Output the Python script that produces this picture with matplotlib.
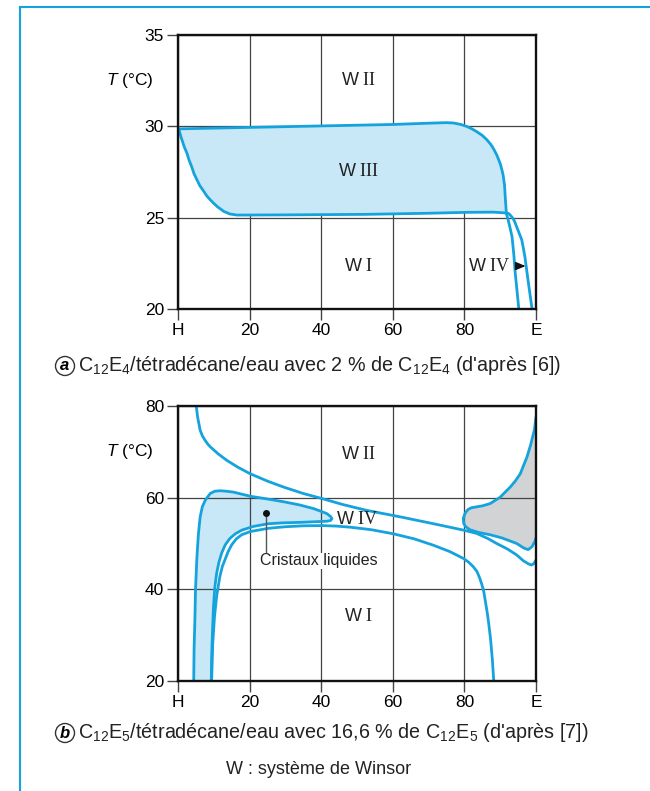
import matplotlib
matplotlib.use("Agg")
import matplotlib.pyplot as plt
from matplotlib.lines import Line2D

plt.rcParams['font.family'] = ['Liberation Sans', 'DejaVu Sans']
plt.rcParams['mathtext.fontset'] = 'custom'
plt.rcParams['mathtext.rm'] = 'Liberation Serif'
plt.rcParams['mathtext.it'] = 'Liberation Sans:italic'
plt.rcParams['mathtext.sf'] = 'Liberation Sans'

BLUE = '#14a3dc'
FILL = '#c8e8f8'
GREY = '#d1d3d4'

xticks = [0, 20, 40, 60, 80, 100]
xticklabels = ['H', '20', '40', '60', '80', 'E']

# --- (a) C12E4 / tetradecane / water, 2 % surfactant
a_yticks = [20, 25, 30, 35]
a_upper_x = [0.3, 20, 40, 60, 70, 75, 77, 79, 80.7, 82.2, 83.5, 85, 86.3, 87.4, 88.2, 89.0, 89.6,
             90.1, 90.5, 90.8, 91.0, 91.2, 91.3, 91.45, 91.6, 91.7]
a_upper_T = [29.86, 29.94, 30.02, 30.1, 30.17, 30.2, 30.18, 30.1, 29.99, 29.85, 29.7, 29.5, 29.26,
             29.0, 28.75, 28.45, 28.16, 27.9, 27.6, 27.35, 27.07, 26.8, 26.5, 26.0, 25.6, 25.3]
a_lower_x = [0.3, 0.7, 1.2, 1.8, 2.5, 3.1, 3.8, 4.5, 5.3, 6.1, 7.0, 8.0, 9.0, 10.0, 11.0, 12.8, 14.5,
             16.5, 30, 52.8, 70, 80.7, 88, 90.5, 91.7]
a_lower_T = [29.8, 29.5, 29.2, 28.85, 28.53, 28.15, 27.8, 27.4, 27.07, 26.75, 26.5, 26.2, 25.98, 25.78,
             25.6, 25.34, 25.2, 25.14, 25.15, 25.18, 25.24, 25.29, 25.3, 25.27, 25.25]
a_w4_in_x = [91.7, 92.2, 92.8, 93.3, 93.8, 94.2, 94.7, 95.2]
a_w4_in_T = [25.25, 24.9, 24.4, 23.97, 23.0, 21.97, 21.0, 20.0]
a_w4_out_x = [91.7, 92.4, 93.0, 93.6, 94.0, 94.6, 95.0, 95.4, 96.0, 96.5, 96.9, 97.9, 98.9]
a_w4_out_T = [25.27, 25.22, 25.1, 24.95, 24.8, 24.5, 24.3, 24.1, 23.8, 23.3, 22.86, 21.4, 20.0]

# --- (b) C12E5 / tetradecane / water, 16.6 % surfactant
b_yticks = [20, 40, 60, 80]
b_w2_x = [5.1, 5.5, 6.2, 6.8, 7.5, 8.2, 9.0, 11.3, 13.7, 16.8, 20.2, 25, 29.5, 35, 40.2, 46, 52.8, 62.1,
          71.4, 79.8, 83.4, 86.5, 89.0, 92.0, 94.6, 96.5, 98.0, 98.8, 99.4, 100]
b_w2_T = [80, 77.5, 74.7, 73.5, 72.6, 71.8, 71.1, 69.5, 68.1, 66.6, 65.2, 63.6, 62.3, 60.9, 59.8, 58.5,
          57.2, 55.8, 54.3, 52.9, 52.2, 51.1, 50.0, 48.8, 47.5, 46.2, 45.5, 45.3, 45.6, 46.4]
b_w1_x = [9.4, 9.7, 10.2, 10.8, 11.7, 12.4, 13.1, 14.0, 15.0, 16.3, 17.8, 20.2, 25.2, 30, 35, 40.2,
          44, 48.1, 54, 60.2, 66, 71.4, 76, 79.8, 81.2, 82.4, 83.5, 84.3, 84.9, 85.4, 85.9, 86.4,
          86.8, 87.3, 87.8, 88.2]
b_w1_T = [20, 28, 34, 38.5, 42.8, 45, 46.4, 48.2, 49.7, 51.0, 51.9, 52.6, 53.3, 53.65, 53.85, 53.9,
          53.8, 53.55, 53.0, 52.1, 51.0, 49.6, 48.2, 46.7, 45.9, 45.0, 43.9, 42.4, 41.0, 39.6, 37.2, 34.8,
          32.5, 29.2, 24.8, 20]
# liquid crystal loop: up the left side, out to the tip, back down
b_lc_x = [4.4, 4.5, 4.7, 4.9, 5.3, 5.7, 6.2, 6.8, 7.6, 9.0, 10.3, 11.8, 13.5, 15.5, 20.2, 25, 29.5,
          34, 37.9, 40, 41.6, 42.6, 43.0, 42.6, 41.6, 40.1, 34.2, 29.5, 25.2, 21, 17.8, 16, 14.5,
          13.2, 12.2, 11.4, 10.8, 10.3, 9.9, 9.6, 9.4, 9.3]
b_lc_T = [20, 27, 32.5, 40, 47.1, 52, 55.8, 58, 59.4, 60.9, 61.4, 61.5, 61.4, 61.2, 60.3, 59.7, 59.1,
          58.4, 57.6, 57.0, 56.5, 55.9, 55.4, 55.0, 54.85, 54.8, 54.6, 54.5, 54.3, 53.7, 52.9, 52.1, 51.1,
          49.7, 47.9, 45.8, 43.5, 40.5, 36, 30, 25, 20]
# grey region near E: upper edge from the top, round the bulge, lower edge to E
b_grey_x = [100, 99.6, 99.3, 98.5, 97.5, 95.6, 94.2, 92.8, 90.0, 87.2, 85, 83.5, 82, 81.0, 80.2, 79.7,
            79.8, 80.3, 81.5, 84, 87.2, 90.5, 94.6, 96.6, 97.8, 98.9, 99.6, 100]
b_grey_T = [77.6, 75, 74, 71.5, 68.9, 65.2, 63.6, 62.3, 60.1, 58.7, 58.2, 58.0, 57.8, 57.4, 56.6, 55.5,
            54.4, 53.7, 53.0, 52.4, 51.9, 51.2, 50.0, 49.0, 48.65, 49.3, 50.3, 51.2]

fig = plt.figure(figsize=(6.5, 7.91), dpi=100)
ax_a = fig.add_axes([0.2738, 0.6094, 0.5508, 0.3464])
ax_b = fig.add_axes([0.2738, 0.1391, 0.5508, 0.3477])


def style_axes(ax, yticks):
    ax.set_xlim(0, 100)
    ax.set_ylim(yticks[0], yticks[-1])
    ax.set_xticks(xticks)
    ax.set_xticklabels(xticklabels)
    ax.set_yticks(yticks)
    ax.tick_params(direction='out', length=8, width=1, color='#444',
                   labelsize=12.5, pad=2)
    ax.grid(color='#444', lw=0.9)
    for sp in ax.spines.values():
        sp.set_linewidth(1.7)
        sp.set_color('#111')
        sp.set_zorder(5)
    ax.text(-0.2, 0.833, r'$\mathit{T}$ (°C)', transform=ax.transAxes,
            fontsize=12.5, ha='left', va='center')


def region(ax, x, y, label):
    ax.text(x, y, label, fontsize=13, ha='center', va='center', color='#222', zorder=4)


style_axes(ax_a, a_yticks)
style_axes(ax_b, b_yticks)

# (a) grid stays under the W III area
ax_a.set_axisbelow(True)
poly_x = a_upper_x + a_lower_x[::-1]
poly_T = a_upper_T + a_lower_T[::-1]
ax_a.fill(poly_x, poly_T, color=FILL, lw=0, zorder=1)
for xs, ts in [(a_upper_x, a_upper_T), (a_lower_x, a_lower_T),
               (a_w4_in_x, a_w4_in_T), (a_w4_out_x, a_w4_out_T)]:
    ax_a.plot(xs, ts, color=BLUE, lw=2, solid_capstyle='round', zorder=3)

region(ax_a, 50.5, 32.5, r'W $\mathrm{II}$')
region(ax_a, 50.5, 27.5, r'W $\mathrm{III}$')
region(ax_a, 50.5, 22.3, r'W $\mathrm{I}$')
region(ax_a, 86.9, 22.3, r'W $\mathrm{IV}$')
ax_a.annotate('', xy=(97.1, 22.35), xytext=(94.9, 22.35),
              arrowprops=dict(arrowstyle='-|>,head_length=0.6,head_width=0.25',
                              color='#111', lw=1, shrinkA=0, shrinkB=0), zorder=4)

# (b) grid lines stay visible across the shaded areas
ax_b.fill(b_lc_x, b_lc_T, color=FILL, lw=0, zorder=0.2)
ax_b.fill(b_grey_x, b_grey_T, color=GREY, lw=0, zorder=0.2)
for xs, ts in [(b_w2_x, b_w2_T), (b_w1_x, b_w1_T), (b_lc_x, b_lc_T),
               (b_grey_x, b_grey_T)]:
    ax_b.plot(xs, ts, color=BLUE, lw=2, solid_capstyle='round', zorder=3)

region(ax_b, 50.5, 69.4, r'W $\mathrm{II}$')
region(ax_b, 50.5, 34.1, r'W $\mathrm{I}$')
region(ax_b, 50.2, 55.2, r'W $\mathrm{IV}$')
ax_b.plot([24.6, 24.6], [56.7, 47.9], color='#555', lw=1, zorder=4)
ax_b.plot([24.6], [56.7], 'o', color='#111', ms=4, zorder=4)
ax_b.text(23.0, 46.2, 'Cristaux liquides', fontsize=11.5, ha='left', va='center',
          color='#222', bbox=dict(fc='white', ec='none', pad=0.5), zorder=4)

# captions
circle = dict(boxstyle='circle,pad=0.12', fc='white', ec='#333', lw=1)
fig.text(0.1, 1 - 366 / 791, 'a', fontsize=12, fontweight='bold', fontstyle='italic',
         ha='center', va='center', bbox=circle)
fig.text(0.12, 1 - 366 / 791,
         r"C$_{\mathsf{12}}$E$_{\mathsf{4}}$/tétradécane/eau avec 2 % de "
         r"C$_{\mathsf{12}}$E$_{\mathsf{4}}$ (d'après [6])",
         fontsize=14.2, ha='left', va='center', color='#222')
fig.text(0.1, 1 - 733 / 791, 'b', fontsize=12, fontweight='bold', fontstyle='italic',
         ha='center', va='center', bbox=circle)
fig.text(0.12, 1 - 733 / 791,
         r"C$_{\mathsf{12}}$E$_{\mathsf{5}}$/tétradécane/eau avec 16,6 % de "
         r"C$_{\mathsf{12}}$E$_{\mathsf{5}}$ (d'après [7])",
         fontsize=14.2, ha='left', va='center', color='#222')
fig.text(0.49, 1 - 770 / 791, 'W : système de Winsor', fontsize=13,
         ha='center', va='center', color='#222')

# page frame: left and top rules
fig.add_artist(Line2D([20 / 650, 20 / 650], [0, 1 - 7 / 791], transform=fig.transFigure,
                      color=BLUE, lw=1.5))
fig.add_artist(Line2D([20 / 650, 1], [1 - 7 / 791, 1 - 7 / 791], transform=fig.transFigure,
                      color=BLUE, lw=1.5))

fig.savefig('out.png', dpi=100, facecolor='white')
